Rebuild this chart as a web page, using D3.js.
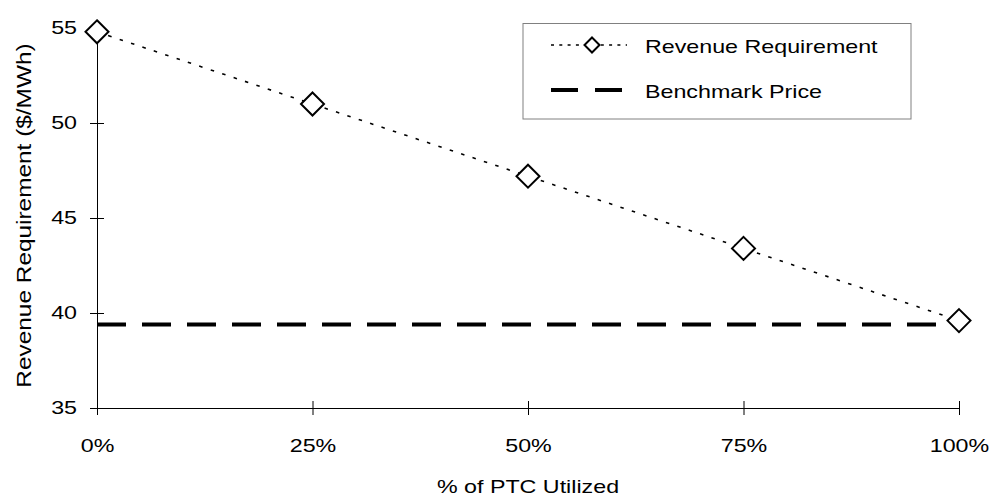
<!DOCTYPE html>
<html>
<head>
<meta charset="utf-8">
<script src="https://cdn.jsdelivr.net/npm/d3@7"></script>
<style>
  body { margin: 0; background: #fff; }
  svg text { font-family: "Liberation Sans", Arial, sans-serif; fill: #000; font-size: 18.6px; }
</style>
</head>
<body>
<div id="chart"></div>
<script>
// data
const shares = [0, 0.25, 0.5, 0.75, 1];
const revenueRequirement = [54.8, 51.0, 47.2, 43.4, 39.6];
const benchmarkPrice = 39.4;
const yTicks = [35, 40, 45, 50, 55];
const seriesNames = ['Revenue Requirement', 'Benchmark Price'];

const width = 990, height = 498;
const margin = { top: 28, right: 31, bottom: 90, left: 97 };
const graphWidth = width - margin.left - margin.right;
const graphHeight = height - margin.top - margin.bottom;
const stretch = 1.25; // the reference text is drawn wide

const svg = d3.select('#chart').append('svg')
  .attr('width', width)
  .attr('height', height);

const chart = svg.append('g')
  .attr('transform', `translate(${margin.left},${margin.top})`);

const xScale = d3.scaleLinear().domain([0, 1]).range([0, graphWidth]);
const yScale = d3.scaleLinear().domain([35, 55]).range([graphHeight, 0]);

// axes, ticks cross the axis line
const xAxis = d3.axisBottom(xScale)
  .tickValues(shares)
  .tickFormat(d3.format('.0%'))
  .tickSizeInner(7).tickSizeOuter(0).tickPadding(24);
const xg = chart.append('g')
  .attr('transform', `translate(0,${graphHeight})`)
  .call(xAxis);
xg.selectAll('.tick line').attr('y1', -7).attr('stroke', '#000');
xg.select('.domain').attr('stroke', '#000');
xg.selectAll('.tick text').attr('transform', `scale(${stretch},1)`);

const yAxis = d3.axisLeft(yScale)
  .tickValues(yTicks)
  .tickSizeInner(7).tickSizeOuter(0);
const yg = chart.append('g').call(yAxis);
yg.selectAll('.tick line').attr('x1', 7).attr('stroke', '#000');
yg.select('.domain').attr('stroke', '#000');
yg.selectAll('.tick text')
  .attr('x', -20 / stretch)
  .attr('transform', `scale(${stretch},1)`);

// axis titles
chart.append('text')
  .attr('transform', `translate(${graphWidth / 2},${graphHeight + 85}) scale(${stretch},1)`)
  .attr('text-anchor', 'middle')
  .text('% of PTC Utilized');

chart.append('text')
  .attr('transform', `translate(${-margin.left + 31},${graphHeight / 2 - 2.5}) rotate(-90) scale(1.22,1)`)
  .attr('text-anchor', 'middle')
  .style('font-size', '20px')
  .text('Revenue Requirement ($/MWh)');

// benchmark line
chart.append('line')
  .attr('x1', xScale(0)).attr('x2', xScale(1))
  .attr('y1', yScale(benchmarkPrice)).attr('y2', yScale(benchmarkPrice))
  .attr('stroke', '#000')
  .attr('stroke-width', 4)
  .attr('stroke-dasharray', '29,16');

// revenue requirement line (smoothed, dotted)
const points = shares.map((s, i) => ({ x: s, y: revenueRequirement[i] }));
const line = d3.line()
  .x(d => xScale(d.x))
  .y(d => yScale(d.y))
  .curve(d3.curveCatmullRom.alpha(0.5));

chart.append('path')
  .datum(points)
  .attr('fill', 'none')
  .attr('stroke', '#000')
  .attr('stroke-width', 1.6)
  .attr('stroke-dasharray', '3.5,8.5')
  .attr('d', line);

const diamond = (r) => `M0,${-r}L${r},0L0,${r}L${-r},0Z`;

chart.selectAll('.marker')
  .data(points)
  .enter()
  .append('path')
  .attr('class', 'marker')
  .attr('transform', d => `translate(${xScale(d.x)},${yScale(d.y)})`)
  .attr('d', diamond(11.5))
  .attr('fill', '#fff')
  .attr('stroke', '#000')
  .attr('stroke-width', 2);

// legend
const legend = svg.append('g').attr('transform', 'translate(523,23.5)');
legend.append('rect')
  .attr('width', 388).attr('height', 95.5)
  .attr('fill', '#fff')
  .attr('stroke', '#808080')
  .attr('stroke-width', 1);

legend.append('line')
  .attr('x1', 28).attr('x2', 104)
  .attr('y1', 21.5).attr('y2', 21.5)
  .attr('stroke', '#000')
  .attr('stroke-width', 1.6)
  .attr('stroke-dasharray', '3,5.3');
legend.append('path')
  .attr('transform', 'translate(69,21.5)')
  .attr('d', diamond(7.5))
  .attr('fill', '#fff')
  .attr('stroke', '#000')
  .attr('stroke-width', 2);

legend.append('line')
  .attr('x1', 28).attr('x2', 100)
  .attr('y1', 66.5).attr('y2', 66.5)
  .attr('stroke', '#000')
  .attr('stroke-width', 4)
  .attr('stroke-dasharray', '27,17');

legend.selectAll('.legend-label')
  .data(seriesNames)
  .enter()
  .append('text')
  .attr('class', 'legend-label')
  .attr('transform', (d, i) => `translate(122,${23 + i * 45}) scale(${stretch},1)`)
  .attr('dy', '0.35em')
  .text(d => d);
</script>
</body>
</html>
